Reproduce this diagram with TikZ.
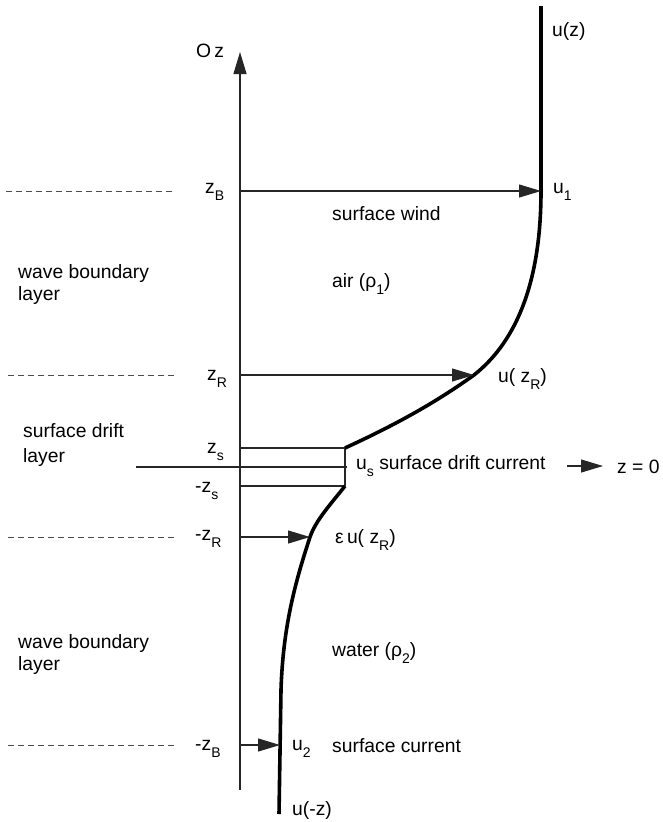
\documentclass[tikz,border=0pt]{standalone}
\usepackage{fontspec}
\setmainfont{Liberation Sans}
\usetikzlibrary{arrows.meta}
\newcommand\sbx[1]{\raisebox{-0.38em}{\fontsize{14}{14}\selectfont #1}}
\begin{document}
\begin{tikzpicture}[x=1pt,y=-1pt,
  lbl/.style={anchor=base west,inner sep=0pt,font=\fontsize{19.3}{22}\selectfont},
  thin line/.style={line width=1.1pt,black!85},
  dashline/.style={line width=1pt,black!70,dash pattern=on 6pt off 4pt},
  prof/.style={line width=3.6pt,black},
  arr/.style={line width=1.1pt,black!85,-{Triangle[length=22pt,width=13pt]}}]
\useasboundingbox (0,0) rectangle (662,822);
% coordinates
\coordinate (axB) at (240,790);
\coordinate (axT) at (240,52);
\coordinate (zB) at (240,191);
\coordinate (zR) at (240,375);
\coordinate (zs) at (240,448);
\coordinate (z0a) at (136,467);
\coordinate (z0b) at (347,467);
\coordinate (mzs) at (240,486);
\coordinate (mzR) at (240,537);
\coordinate (mzB) at (240,745);
\coordinate (top) at (541,6);
\coordinate (u1) at (541,191);
\coordinate (uR) at (474,375);
\coordinate (cs) at (345,448);
\coordinate (cms) at (345,486);
\coordinate (euR) at (310,537);
\coordinate (u2) at (280,745);
\coordinate (bot) at (279,814);
\coordinate (dB1) at (6,191);   \coordinate (dB2) at (175,191);
\coordinate (dR1) at (8,375);   \coordinate (dR2) at (175,375);
\coordinate (dmR1) at (8,537);  \coordinate (dmR2) at (175,537);
\coordinate (dmB1) at (8,745);  \coordinate (dmB2) at (175,745);
\coordinate (a0s) at (567,466); \coordinate (a0e) at (603,466);
% dashed level lines
\draw[dashline] (dB1) -- (dB2);
\draw[dashline] (dR1) -- (dR2);
\draw[dashline] (dmR1) -- (dmR2);
\draw[dashline] (dmB1) -- (dmB2);
% axis
\draw[arr] (axB) -- (axT);
% surface lines
\draw[thin line] (zs) -- (cs);
\draw[thin line] (mzs) -- (cms);
\draw[thin line] (z0a) -- (z0b);
\draw[thin line] (cs) -- (cms);
% profile
\draw[prof] (top) -- (u1) .. controls (541,290) and (512,345) .. (uR)
  .. controls (435,403) and (395,425) .. (cs);
\draw[prof] (cms) .. controls (330,505) and (316,520) .. (euR)
  .. controls (296,580) and (283,625) .. (281,690) -- (bot);
% arrows
\draw[arr] (zB) -- (u1);
\draw[arr] (zR) -- (uR);
\draw[arr] (mzR) -- (euR);
\draw[arr] (mzB) -- (u2);
\draw[arr] (a0s) -- (a0e);
% labels
\node[lbl] (Oz) at (196,57) {O\,z};
\node[lbl] (uz) at (552,36) {u(z)};
\node[lbl] (lzB) at (205,193) {z\sbx{B}};
\node[lbl] (lu1) at (553,193) {u\sbx{1}};
\node[lbl] (sw) at (332,220) {surface wind};
\node[lbl] (air) at (332,287) {air (ρ\sbx{1})};
\node[lbl] (wbl1) at (18,278) {wave boundary};
\node[lbl] (wbl2) at (18,300) {layer};
\node[lbl] (lzR) at (207,380) {z\sbx{R}};
\node[lbl] (luR) at (498,382) {u( z\sbx{R})};
\node[lbl] (sdl1) at (23,437) {surface drift};
\node[lbl] (sdl2) at (23,462) {layer};
\node[lbl] (lzs) at (207,453) {z\sbx{s}};
\node[lbl] (lus) at (356,469) {u\sbx{s} surface drift current};
\node[lbl] (lz0) at (617,473) {z = 0};
\node[lbl] (lmzs) at (195,492) {-z\sbx{s}};
\node[lbl] (lmzR) at (195,540) {-z\sbx{R}};
\node[lbl] (leuR) at (335,543) {ε\,u( z\sbx{R})};
\node[lbl] (wbl3) at (18,648) {wave boundary};
\node[lbl] (wbl4) at (18,670) {layer};
\node[lbl] (water) at (332,656) {water (ρ\sbx{2})};
\node[lbl] (lmzB) at (195,750) {-z\sbx{B}};
\node[lbl] (lu2) at (292,750) {u\sbx{2}};
\node[lbl] (sc) at (332,752) {surface current};
\node[lbl] (umz) at (292,815) {u(-z)};
\end{tikzpicture}
\end{document}
